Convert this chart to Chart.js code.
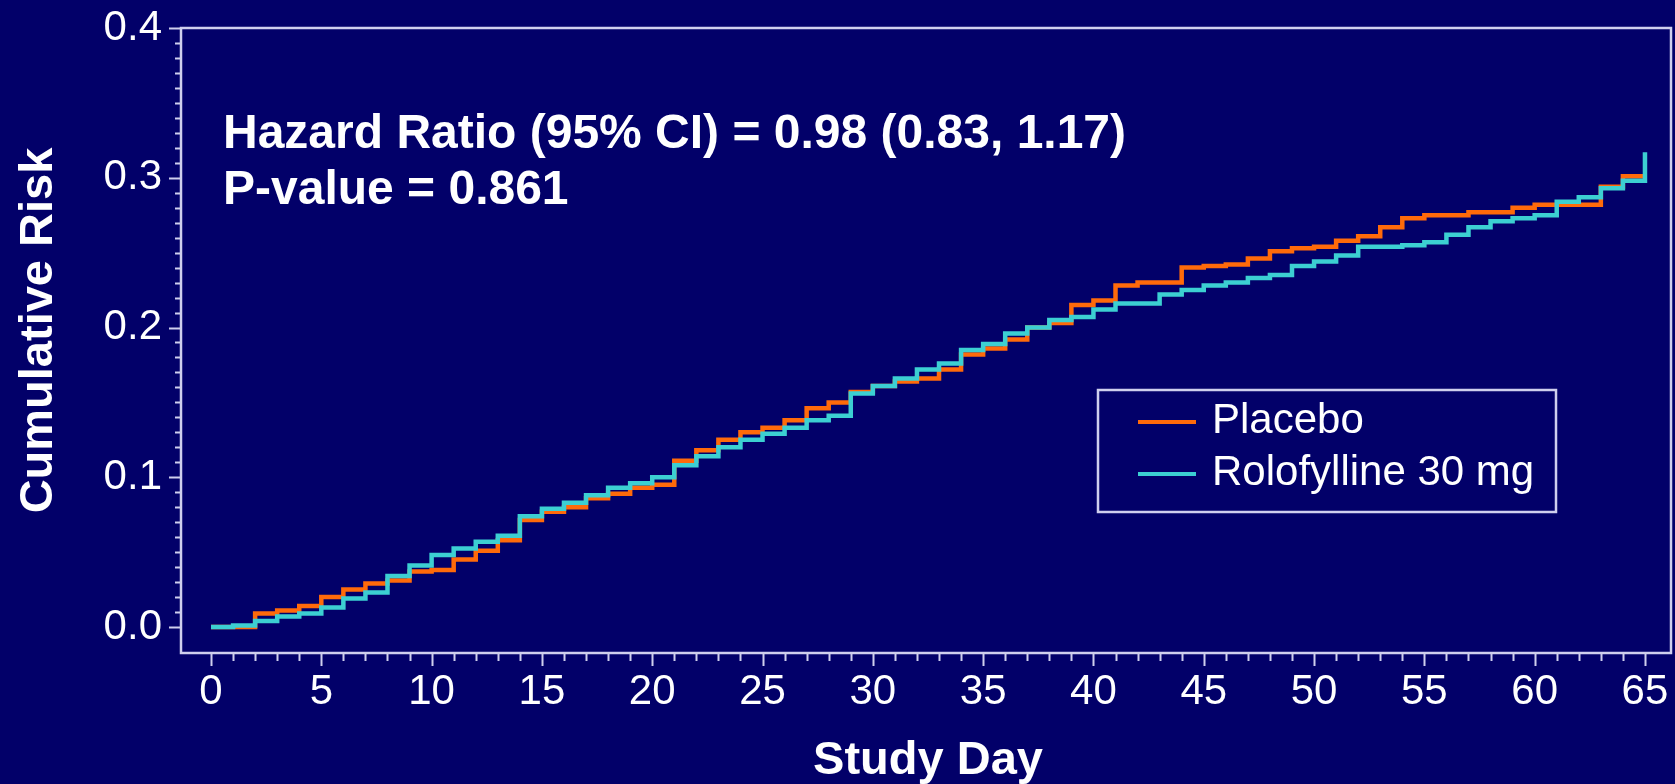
<!DOCTYPE html>
<html>
<head>
<meta charset="utf-8">
<title>Cumulative Risk by Study Day</title>
<script src="https://cdn.jsdelivr.net/npm/chart.js@4.4.1/dist/chart.umd.min.js"></script>
<style>
  html, body { margin: 0; padding: 0; background: #020069; }
  #wrap { width: 1675px; height: 784px; position: relative; }
</style>
</head>
<body>
<div id="wrap"><canvas id="km" width="1675" height="784"></canvas></div>
<script>
// Kaplan-Meier style cumulative risk: day of each step and the risk after it
const placeboDays = [0, 2, 3, 4, 5, 6, 7, 8, 9, 10, 11, 12, 13, 14, 15, 16, 17, 18, 19, 20,
  21, 22, 23, 24, 25, 26, 27, 28, 29, 30, 31, 32, 33, 34, 35, 36, 37, 38, 39, 40,
  41, 42, 44, 45, 46, 47, 48, 49, 50, 51, 52, 53, 54, 55, 57, 59, 60, 63, 64, 65];
const placeboRisk = [0, 0.009, 0.011, 0.014, 0.020, 0.025, 0.029, 0.031, 0.037, 0.038, 0.045, 0.051, 0.058, 0.0715, 0.077, 0.080, 0.086, 0.089, 0.093, 0.095,
  0.111, 0.118, 0.125, 0.130, 0.133, 0.138, 0.146, 0.150, 0.157, 0.161, 0.164, 0.166, 0.172, 0.182, 0.186, 0.192, 0.200, 0.203, 0.215, 0.218,
  0.228, 0.230, 0.240, 0.241, 0.242, 0.246, 0.251, 0.253, 0.254, 0.258, 0.261, 0.267, 0.273, 0.275, 0.277, 0.280, 0.282, 0.294, 0.301, 0.301];

const roloDays = [0, 1, 2, 3, 4, 5, 6, 7, 8, 9, 10, 11, 12, 13, 14, 15, 16, 17, 18, 19, 20,
  21, 22, 23, 24, 25, 26, 27, 28, 29, 30, 31, 32, 33, 34, 35, 36, 37, 38, 39, 40,
  41, 43, 44, 45, 46, 47, 48, 49, 50, 51, 52, 54, 55, 56, 57, 58, 59, 60, 61, 62, 63, 64, 65];
const roloRisk = [0, 0.001, 0.004, 0.007, 0.009, 0.013, 0.019, 0.023, 0.034, 0.041, 0.048, 0.0525, 0.057, 0.061, 0.074, 0.079, 0.083, 0.088, 0.093, 0.096, 0.100,
  0.108, 0.114, 0.120, 0.125, 0.129, 0.133, 0.138, 0.141, 0.156, 0.161, 0.166, 0.172, 0.176, 0.185, 0.189, 0.196, 0.200, 0.205, 0.207, 0.212,
  0.216, 0.222, 0.225, 0.228, 0.230, 0.233, 0.235, 0.241, 0.244, 0.248, 0.254, 0.255, 0.257, 0.262, 0.267, 0.271, 0.273, 0.275, 0.284, 0.287, 0.293, 0.298, 0.317];

const seriesNames = ['Placebo', 'Rolofylline 30 mg'];
const seriesColors = ['#ff6a0a', '#3ccfd2'];

const xTickValues = [0, 5, 10, 15, 20, 25, 30, 35, 40, 45, 50, 55, 60, 65];
const yTickValues = [0, 0.1, 0.2, 0.3, 0.4];
const yTickLabels = ['0.0', '0.1', '0.2', '0.3', '0.4'];

const xTitle = 'Study Day';
const yTitle = 'Cumulative Risk';
const statLines = ['Hazard Ratio (95% CI) = 0.98 (0.83, 1.17)', 'P-value = 0.861'];

const FONT = "'Liberation Sans', Arial, Helvetica, sans-serif";
const AXIS_COLOR = '#cfcfee';
const TEXT_COLOR = '#ffffff';

function toPoints(days, risk) {
  return days.map((d, i) => ({ x: d, y: risk[i] }));
}

// keep the plot box fixed: no extra room reserved for overhanging tick labels
function fixScalePadding(scale) {
  scale.paddingTop = 0;
  scale.paddingBottom = 0;
  scale.paddingLeft = 0;
  scale.paddingRight = 0;
}

// frame, minor/major tick marks, axis titles, statistics text and legend
const decorations = {
  id: 'decorations',
  afterDatasetsDraw(chart) {
    const { ctx, chartArea: a, scales: { x, y } } = chart;
    ctx.save();

    // plot frame
    ctx.strokeStyle = AXIS_COLOR;
    ctx.lineWidth = 2.5;
    ctx.strokeRect(a.left, a.top, a.right - a.left, a.bottom - a.top);

    // x ticks: every day, longer every 5 days
    ctx.lineWidth = 2;
    ctx.beginPath();
    for (let d = 0; d <= 65; d++) {
      const px = Math.round(x.getPixelForValue(d)) + 0.5;
      ctx.moveTo(px, a.bottom);
      ctx.lineTo(px, a.bottom + (d % 5 === 0 ? 13 : 8));
    }
    // y ticks: every 0.01, longer every 0.1
    for (let k = 0; k <= 40; k++) {
      const py = Math.round(y.getPixelForValue(k / 100)) + 0.5;
      ctx.moveTo(a.left, py);
      ctx.lineTo(a.left - (k % 10 === 0 ? 12 : 6), py);
    }
    ctx.stroke();

    ctx.fillStyle = TEXT_COLOR;
    ctx.font = 'bold 47px ' + FONT;

    // x axis title
    ctx.textAlign = 'center';
    ctx.textBaseline = 'alphabetic';
    ctx.fillText(xTitle, (x.getPixelForValue(0) + x.getPixelForValue(65)) / 2, 774);

    // y axis title, centred on the 0 - 0.4 range
    ctx.save();
    ctx.translate(52, (y.getPixelForValue(0) + y.getPixelForValue(0.4)) / 2 + 3);
    ctx.rotate(-Math.PI / 2);
    ctx.fillText(yTitle, 0, 0);
    ctx.restore();

    // statistics
    ctx.font = 'bold 48px ' + FONT;
    ctx.textAlign = 'left';
    ctx.fillText(statLines[0], a.left + 42, a.top + 120);
    ctx.fillText(statLines[1], a.left + 42, a.top + 176);

    // legend
    const box = { left: 1098, top: 390, width: 458, height: 122 };
    ctx.strokeStyle = AXIS_COLOR;
    ctx.lineWidth = 2.5;
    ctx.strokeRect(box.left, box.top, box.width, box.height);
    ctx.font = '42px ' + FONT;
    chart.data.datasets.forEach((ds, i) => {
      const cy = box.top + 32 + i * 52;
      ctx.strokeStyle = ds.borderColor;
      ctx.lineWidth = 4;
      ctx.beginPath();
      ctx.moveTo(box.left + 40, cy);
      ctx.lineTo(box.left + 98, cy);
      ctx.stroke();
      ctx.fillStyle = TEXT_COLOR;
      ctx.fillText(ds.label, box.left + 114, cy + 11);
    });

    ctx.restore();
  }
};

new Chart(document.getElementById('km'), {
  type: 'line',
  data: {
    datasets: [
      {
        label: seriesNames[0],
        data: toPoints(placeboDays, placeboRisk),
        borderColor: seriesColors[0],
        backgroundColor: seriesColors[0],
        borderWidth: 4.5,
        stepped: 'before',
        pointRadius: 0,
        fill: false,
        order: 1
      },
      {
        label: seriesNames[1],
        data: toPoints(roloDays, roloRisk),
        borderColor: seriesColors[1],
        backgroundColor: seriesColors[1],
        borderWidth: 4.5,
        stepped: 'before',
        pointRadius: 0,
        fill: false,
        order: 0
      }
    ]
  },
  options: {
    responsive: false,
    animation: false,
    devicePixelRatio: 1,
    layout: { padding: { top: 28, right: 4, left: 0, bottom: 0 } },
    plugins: { legend: { display: false }, tooltip: { enabled: false } },
    events: [],
    scales: {
      x: {
        type: 'linear',
        min: -1.36,
        max: 66.18,
        afterFit(scale) { scale.height = 131; fixScalePadding(scale); },
        afterBuildTicks(scale) { scale.ticks = xTickValues.map(v => ({ value: v })); },
        ticks: {
          color: TEXT_COLOR,
          font: { family: FONT, size: 42 },
          padding: 14,
          maxRotation: 0,
          autoSkip: false,
          callback: v => String(v)
        },
        grid: { display: false, drawTicks: false },
        border: { display: false }
      },
      y: {
        type: 'linear',
        min: -0.01736,
        max: 0.4,
        afterFit(scale) { scale.width = 181; fixScalePadding(scale); },
        afterBuildTicks(scale) { scale.ticks = yTickValues.map(v => ({ value: v })); },
        ticks: {
          color: TEXT_COLOR,
          font: { family: FONT, size: 42 },
          padding: 19,
          autoSkip: false,
          callback: (v, i) => yTickLabels[i]
        },
        grid: { display: false, drawTicks: false },
        border: { display: false }
      }
    }
  },
  plugins: [decorations]
});
</script>
</body>
</html>
